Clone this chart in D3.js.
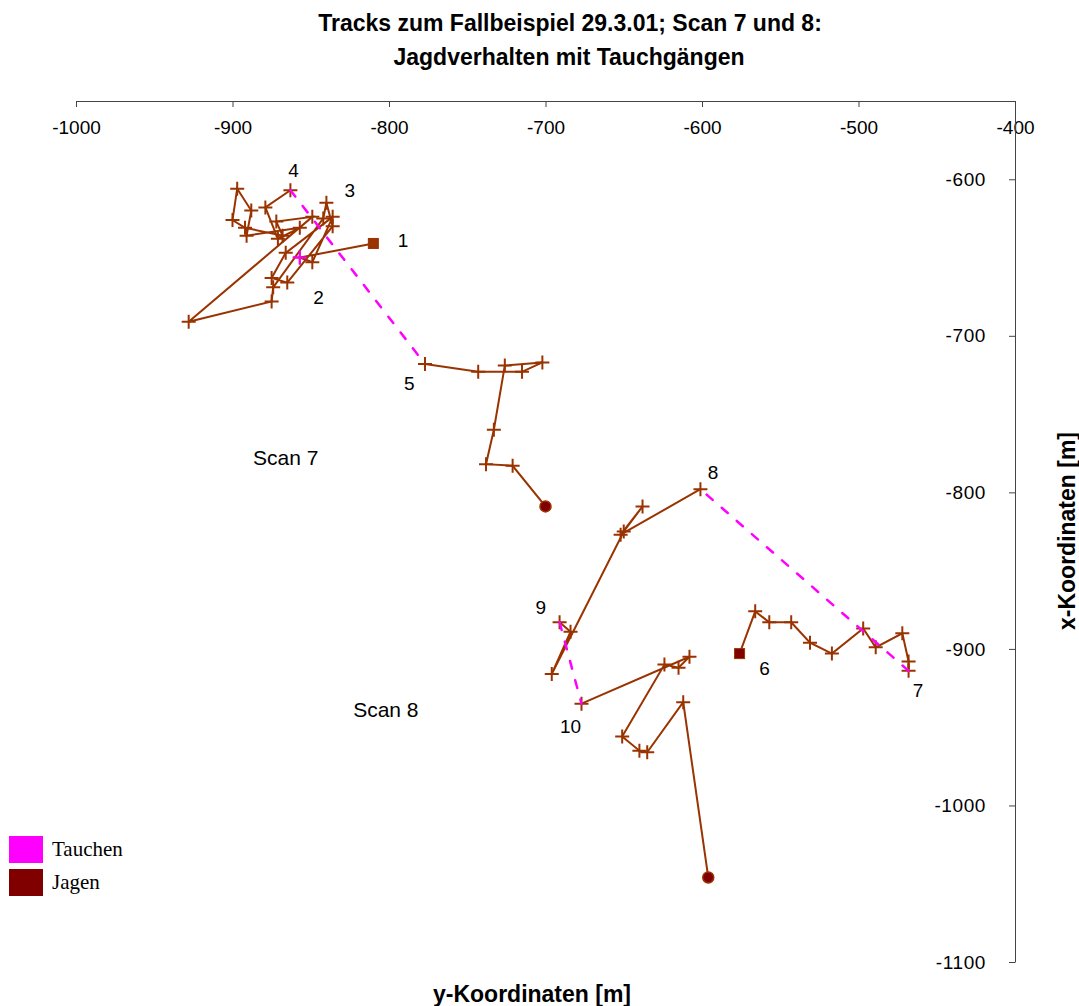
<!DOCTYPE html>
<html lang="de">
<head>
<meta charset="utf-8">
<title>Tracks Scan 7 und 8</title>
<script src="https://cdn.jsdelivr.net/npm/d3@7"></script>
<style>
    body { margin: 0; background: #fff; }
    text { font-family: "Liberation Sans", Arial, sans-serif; fill: #000; }
    .title { font-size: 23px; font-weight: bold; }
    .tick text { font-size: 19px; font-family: "Liberation Sans", Arial, sans-serif; }
    .num { font-size: 19px; }
    .scan { font-size: 21px; }
    .legend text { font-family: "Liberation Serif", "Times New Roman", serif; font-size: 21px; }
</style>
</head>
<body>
<script>
// y-Koordinate (horizontal), x-Koordinate (vertical) in m
var xTicks = [-1000, -900, -800, -700, -600, -500, -400];
var yTicks = [-600, -700, -800, -900, -1000, -1100];

// Jagen tracks (solid)
var track7a = [[-810,-641],[-857,-650],[-849,-653],[-836,-624],[-866,-647],[-875,-663],[-865,-666],
    [-836,-630],[-840,-615],[-842,-625],[-874,-669],[-875,-678],[-928,-691],[-849,-624],[-872,-627],
    [-868,-636],[-892,-631],[-900,-626],[-897,-606],[-888,-620],[-891,-636],[-857,-631],[-871,-638],
    [-879,-618],[-863,-607]];
var track7b = [[-777,-718],[-743,-723],[-715,-723],[-702,-717],[-726,-719],[-733,-760],[-738,-782],
    [-721,-783],[-700,-809]];
var track8a = [[-576,-903],[-566,-876],[-557,-883],[-543,-883],[-531,-896],[-517,-903],[-497,-887],
    [-489,-899],[-472,-890],[-468,-908],[-468,-914]];
var track8b = [[-601,-798],[-652,-827],[-638,-809],[-650,-825],[-696,-916],[-684,-889],[-691,-883]];
var track8c = [[-677,-935],[-608,-905],[-615,-912],[-624,-910],[-651,-956],[-640,-965],[-635,-966],
    [-612,-934],[-596,-1046]];

// Tauchen (dashed)
var dives = [
    [[-863,-607],[-777,-718]],
    [[-468,-914],[-601,-798]],
    [[-691,-883],[-677,-935]]
];
var divePoints = [[-857,-650]];

var startPoints = [[-810,-641,"#993300"],[-576,-903,"#800000"]];
var endPoints = [[-700,-809],[-596,-1046]];

var numLabels = [["1",-791,-639],["2",-845,-675],["3",-825,-607],["4",-861,-594],["5",-787,-730],
    ["6",-560,-912],["7",-462,-926],["8",-593,-787],["9",-703,-873],["10",-684,-949]];
var scanLabels = [["Scan 7",-866,-778],["Scan 8",-802,-939]];

var legendNames = ["Tauchen", "Jagen"];
var legendColors = ["#ff00ff", "#800000"];

var w = 1079, h = 1006;
var trackColor = "#993300";

var svg = d3.select("body").append("svg")
    .attr("width", w)
    .attr("height", h);

var x = d3.scaleLinear().domain([-1000, -400]).range([76, 1015]);
var y = d3.scaleLinear().domain([-550, -1100]).range([101, 962]);

// title
svg.append("text").attr("class", "title")
    .attr("x", 570).attr("y", 31).attr("text-anchor", "middle")
    .text("Tracks zum Fallbeispiel 29.3.01; Scan 7 und 8:");
svg.append("text").attr("class", "title")
    .attr("x", 569).attr("y", 65).attr("text-anchor", "middle")
    .text("Jagdverhalten mit Tauchgängen");

// axes
var fmt = function (d) { return String(d); };
var xAxis = d3.axisBottom(x).tickValues(xTicks).tickSize(6).tickSizeOuter(0).tickPadding(14)
    .tickFormat(fmt);
var gx = svg.append("g").attr("transform", "translate(0," + y(-550) + ")").call(xAxis);

var yAxis = d3.axisLeft(y).tickValues(yTicks).tickSize(6).tickSizeOuter(0).tickPadding(23)
    .tickFormat(fmt);
var gy = svg.append("g").attr("transform", "translate(" + x(-400) + ",0)").call(yAxis);

svg.selectAll(".domain, .tick line").attr("stroke", "#444").attr("stroke-width", 1);
gy.selectAll(".tick text").attr("letter-spacing", "0.6px");

svg.append("text").attr("class", "title")
    .attr("x", 532).attr("y", 1002).attr("text-anchor", "middle")
    .text("y-Koordinaten [m]");
svg.append("text").attr("class", "title")
    .attr("transform", "translate(1075,531) rotate(-90)")
    .attr("text-anchor", "middle")
    .text("x-Koordinaten [m]");

var line = d3.line().x(function (d) { return x(d[0]); }).y(function (d) { return y(d[1]); });

function cross(sel, color) {
    sel.append("path")
        .attr("d", function (d) {
            var cx = x(d[0]), cy = y(d[1]);
            return "M" + (cx - 7) + "," + cy + "H" + (cx + 7) + "M" + cx + "," + (cy - 7) + "V" + (cy + 7);
        })
        .attr("stroke", color)
        .attr("stroke-width", 2)
        .attr("fill", "none");
}

// Jagen tracks: [points, first has square, last has circle]
var tracks = [[track7a, true, false], [track7b, false, true], [track8a, true, false],
    [track8b, false, false], [track8c, false, true]];
tracks.forEach(function (t) {
    svg.append("path").datum(t[0])
        .attr("d", line)
        .attr("fill", "none")
        .attr("stroke", trackColor)
        .attr("stroke-width", 2);
});
tracks.forEach(function (t) {
    var pts = t[0].slice(t[1] ? 1 : 0, t[2] ? t[0].length - 1 : t[0].length);
    svg.append("g").selectAll("g").data(pts).enter().append("g").call(cross, trackColor);
});

// dives
svg.selectAll(".dive").data(dives).enter().append("path")
    .attr("class", "dive")
    .attr("d", line)
    .attr("fill", "none")
    .attr("stroke", "#ff00ff")
    .attr("stroke-width", 2.5)
    .attr("stroke-dasharray", "8,12")
    .attr("stroke-linecap", "round");
svg.append("g").selectAll("g").data(divePoints).enter().append("g").call(cross, "#ff00ff");

// start / end markers
svg.selectAll(".start").data(startPoints).enter().append("rect")
    .attr("x", function (d) { return x(d[0]) - 5; })
    .attr("y", function (d) { return y(d[1]) - 5; })
    .attr("width", 10).attr("height", 10)
    .attr("fill", function (d) { return d[2]; })
    .attr("stroke", trackColor).attr("stroke-width", 1);
svg.selectAll(".end").data(endPoints).enter().append("circle")
    .attr("cx", function (d) { return x(d[0]); })
    .attr("cy", function (d) { return y(d[1]); })
    .attr("r", 5.5)
    .attr("fill", "#800000")
    .attr("stroke", trackColor).attr("stroke-width", 1.5);

// labels
svg.selectAll(".num").data(numLabels).enter().append("text")
    .attr("class", "num")
    .attr("x", function (d) { return x(d[1]); })
    .attr("y", function (d) { return y(d[2]) + 7; })
    .attr("text-anchor", "middle")
    .text(function (d) { return d[0]; });
svg.selectAll(".scan").data(scanLabels).enter().append("text")
    .attr("class", "scan")
    .attr("x", function (d) { return x(d[1]); })
    .attr("y", function (d) { return y(d[2]) + 7; })
    .attr("text-anchor", "middle")
    .text(function (d) { return d[0]; });

// legend
var lg = svg.append("g").attr("class", "legend");
lg.selectAll("rect").data(legendNames).enter().append("rect")
    .attr("x", 9).attr("y", function (d, i) { return 836 + i * 33; })
    .attr("width", 34).attr("height", 27)
    .attr("fill", function (d, i) { return legendColors[i]; });
lg.selectAll("text").data(legendNames).enter().append("text")
    .attr("x", 52).attr("y", function (d, i) { return 856 + i * 33; })
    .text(function (d) { return d; });
</script>
</body>
</html>
